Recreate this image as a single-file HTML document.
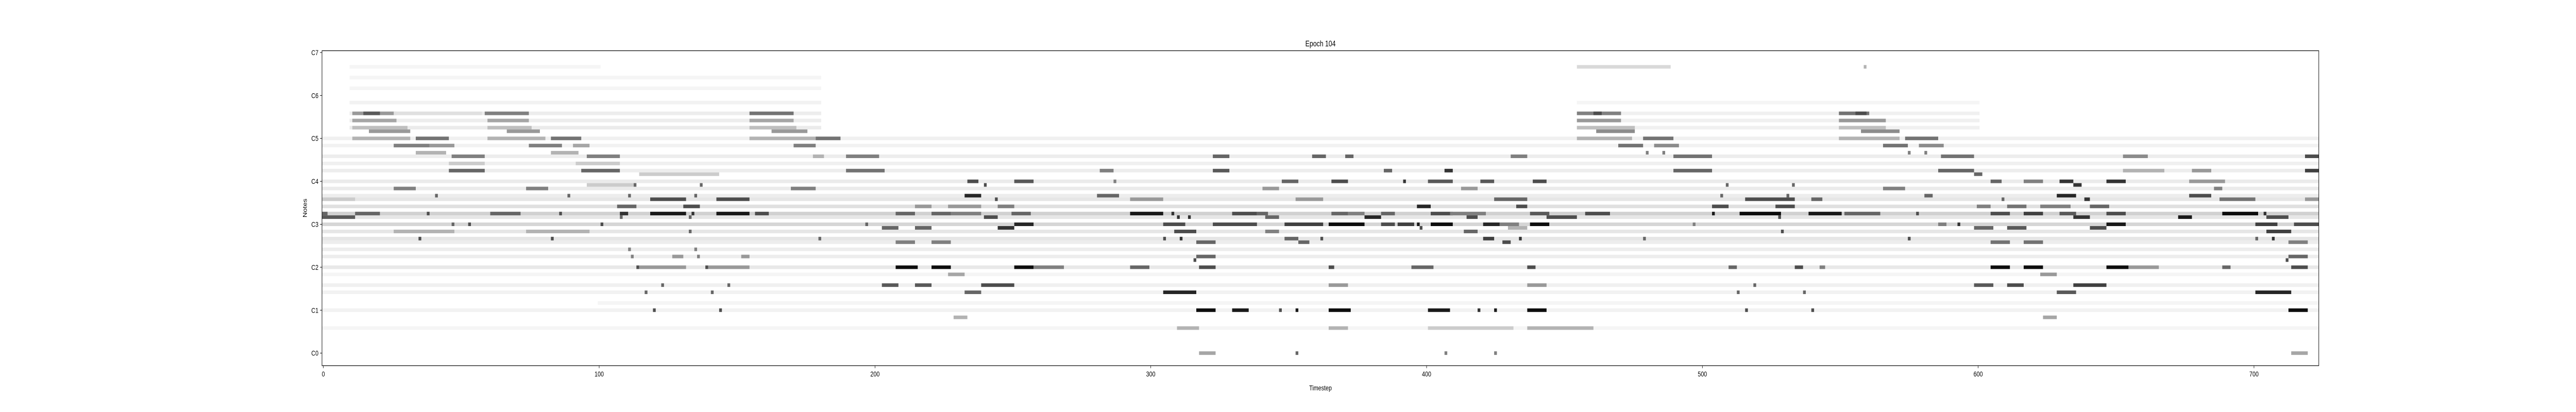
<!DOCTYPE html>
<html><head><meta charset="utf-8"><style>
html,body{margin:0;padding:0;background:#fff;width:100%;height:100%;overflow:hidden;}
svg{display:block;width:100vw;height:100vh;font-family:"Liberation Sans","DejaVu Sans",sans-serif;}
</style></head><body>
<svg id="chart" viewBox="0 0 6500 800" preserveAspectRatio="none">
<rect x="0" y="0" width="6500" height="800" fill="#fff"/>
<text x="3332" y="90" font-size="16" text-anchor="middle" fill="#000">Epoch 104</text>
<g id="cells"></g>
<g id="axes"></g>
<text x="3332" y="758" font-size="14" text-anchor="middle" fill="#000">Timestep</text>
<text x="0" y="0" font-size="14" text-anchor="middle" fill="#000" transform="translate(774,404) rotate(-90)">Notes</text>
</svg>
<script>
const xTicks = [0,100,200,300,400,500,600,700];
const yTickNotes = [0,12,24,36,48,60,72,84];
const yTickLabels = ["C0","C1","C2","C3","C4","C5","C6","C7"];
const tMin = -0.5, tMax = 723.5, nMin = -3.5, nMax = 84.5;
// note runs: [note, tStart, tEnd, intensity]
const faintRuns = [
[39,0,723,0.18],[36,0,723,0.16],[41,0,723,0.12],[43,0,723,0.1],[38,0,723,0.1],[32,0,723,0.1],[34,0,723,0.1],
[24,0,723,0.09],[29,0,723,0.07],[27,0,723,0.07],[31,0,723,0.07],[46,0,723,0.08],[48,0,723,0.08],[44,0,723,0.07],
[51,0,723,0.07],[53,0,723,0.06],[55,0,723,0.07],[58,0,723,0.05],[60,0,723,0.06],[19,0,723,0.06],[17,0,723,0.05],
[12,0,723,0.05],[22,0,723,0.04],[7,0,723,0.04],[14,100,723,0.04],[63,10,180,0.08],[65,10,180,0.07],[67,10,180,0.07],
[70,10,180,0.05],[74,10,180,0.04],[77,10,180,0.04],[80,10,100,0.04],[63,455,600,0.06],[65,455,600,0.06],[67,455,600,0.06],[70,455,600,0.04]
];
const runs = [
[67,11,26,.4],[67,15,20,.65],[67,59,74,.5],[67,155,170,.55],[67,26,57,.12],
[65,11,26,.35],[65,60,74,.35],[65,155,170,.35],
[63,11,30,.25],[63,60,75,.25],[63,155,171,.25],
[62,17,31,.4],[62,67,78,.4],[62,163,175,.4],
[60,11,31,.3],[60,34,45,.55],[60,60,80,.3],[60,83,93,.55],[60,155,178,.3],[60,179,187,.55],
[58,26,38,.5],[58,39,47,.4],[58,75,86,.5],[58,91,96,.35],[58,171,178,.5],
[56,34,44,.3],[56,83,92,.3],
[55,47,58,.5],[55,96,107,.5],[55,178,181,.3],
[53,46,58,.2],[53,92,107,.2],
[51,46,58,.6],[51,94,107,.6],
[50,115,143,.2],
[47,113,113,.6],[47,137,137,.6],[47,96,112,.2],
[46,26,33,.5],[46,74,81,.5],[46,170,178,.5],
[44,41,41,.6],[44,89,89,.6],[44,111,111,.6],[44,135,135,.6],
[43,119,131,.7],[43,143,154,.7],[43,0,11,.2],
[41,107,113,.6],[41,131,136,.7],
[39,0,1,.6],[39,12,20,.6],[39,38,38,.7],[39,61,71,.6],[39,86,86,.7],[39,108,110,.8],[39,119,131,.9],[39,134,134,.8],[39,143,154,.9],[39,157,161,.7],
[38,0,11,.65],[38,108,108,.6],[38,133,133,.6],
[36,47,47,.6],[36,53,53,.7],[36,101,101,.7],
[34,26,47,.3],[34,74,96,.3],[34,133,133,.6],
[32,35,35,.7],[32,83,83,.7],[32,180,180,.6],
[29,111,111,.5],[29,135,135,.5],
[27,112,112,.5],[27,136,136,.5],[27,127,130,.4],[27,152,154,.4],
[24,114,114,.7],[24,115,131,.4],[24,139,139,.7],[24,140,154,.4],
[19,123,123,.6],[19,147,147,.6],[17,117,117,.6],[17,141,141,.6],[12,120,120,.7],[12,144,144,.7],
[55,190,201,.5],[55,323,328,.6],[55,359,363,.6],
[51,190,203,.55],[51,323,328,.65],[51,282,286,.5],
[48,234,237,.7],[48,251,257,.65],[48,287,287,.5],[48,348,353,.6],
[47,240,240,.7],[46,341,346,.4],
[44,233,238,.85],[44,281,288,.6],
[43,244,244,.7],[43,293,304,.4],[43,353,362,.4],
[41,227,238,.4],[41,245,250,.5],[41,215,220,.4],
[39,208,214,.6],[39,221,227,.6],[39,228,238,.5],[39,250,256,.6],[39,293,304,.9],[39,308,308,.8],[39,330,338,.7],[39,339,342,.6],
[38,240,244,.7],[38,310,310,.8],[38,314,314,.8],[38,342,346,.6],
[36,197,197,.6],[36,251,257,.85],[36,305,312,.7],[36,323,338,.7],[36,349,362,.75],
[35,203,208,.6],[35,215,220,.6],[35,245,250,.8],
[34,309,316,.7],[34,342,346,.5],
[32,305,305,.7],[32,311,311,.8],[32,349,353,.6],
[31,208,214,.5],[31,221,227,.5],[31,317,323,.6],[31,354,357,.6],
[27,317,323,.6],[26,316,316,.7],
[24,208,215,.95],[24,221,227,.95],[24,251,257,.95],[24,258,268,.5],[24,293,299,.6],[24,318,323,.7],
[22,227,232,.35],
[19,203,208,.65],[19,215,220,.65],[19,239,250,.7],
[17,233,238,.6],[17,305,316,.85],
[12,317,323,.95],[12,330,335,.9],[12,347,347,.7],[12,353,353,.9],
[10,229,233,.3],[7,310,317,.3],[0,318,323,.35],[0,353,353,.6],
[80,455,488,.15],[67,455,470,.5],[67,461,463,.7],[65,455,470,.4],[63,455,475,.25],[62,462,475,.45],
[60,455,474,.3],[60,479,489,.55],[58,470,478,.55],[58,483,491,.45],[56,480,480,.5],[56,486,486,.5],
[55,490,503,.55],[51,490,503,.6],
[55,371,373,.6],[55,431,436,.5],
[51,407,409,.8],[51,385,387,.6],
[48,366,371,.7],[48,392,392,.8],[48,401,409,.65],[48,420,424,.65],[48,439,443,.7],
[46,413,418,.4],
[43,425,436,.6],[43,516,533,.7],[43,540,543,.6],
[41,397,401,.85],[41,433,436,.7],[41,504,509,.7],[41,527,533,.7],
[39,366,371,.6],[39,372,377,.5],[39,384,388,.6],[39,402,409,.7],[39,409,421,.5],[39,438,444,.65],[39,458,466,.7],[39,504,504,.9],[39,514,528,.95],[39,539,550,.9],
[38,378,383,.85],[38,415,418,.7],[38,444,454,.7],[38,528,528,.7],
[36,365,377,.95],[36,384,388,.7],[36,390,395,.75],[36,397,397,.9],[36,402,409,.95],[36,421,426,.85],[36,427,433,.5],[36,438,444,.95],[36,497,497,.5],
[35,398,398,.7],[35,430,436,.3],
[34,414,418,.6],[34,529,529,.7],
[32,362,362,.7],[32,434,434,.8],[32,421,424,.75],[32,479,479,.6],
[31,428,430,.7],
[24,365,366,.7],[24,395,402,.6],[24,437,439,.7],[24,510,512,.6],[24,534,536,.7],
[19,365,371,.4],[19,437,443,.4],[19,519,519,.6],
[17,513,513,.6],[17,537,537,.6],
[12,365,372,.95],[12,401,408,.9],[12,419,419,.8],[12,425,425,.9],[12,437,443,.95],[12,516,516,.7],[12,540,540,.7],
[47,509,509,.6],[47,533,533,.6],[44,507,507,.6],[44,531,531,.6],
[7,365,371,.3],[7,401,431,.2],[7,437,460,.3],
[0,407,407,.5],[0,425,425,.5],
[80,559,559,.3],[67,550,560,.55],[67,556,559,.7],[65,550,566,.4],[63,550,566,.25],[62,558,571,.45],
[60,550,571,.3],[60,574,585,.55],[58,566,574,.55],[58,579,587,.45],[56,575,575,.5],[56,581,581,.5],
[55,587,598,.55],[51,586,598,.6],
[55,653,661,.45],[55,719,723,.7],
[51,719,723,.75],[51,653,667,.3],[51,678,684,.4],
[50,599,601,.6],
[48,605,608,.6],[48,617,623,.5],[48,630,634,.8],[48,647,653,.8],[48,677,689,.4],
[47,635,637,.8],
[46,686,688,.5],[46,566,573,.5],
[44,581,583,.6],[44,629,635,.85],[44,677,684,.7],
[43,609,609,.6],[43,639,640,.8],[43,688,700,.55],[43,719,723,.4],
[41,600,604,.5],[41,611,617,.55],[41,623,633,.5],[41,641,647,.6],
[39,552,564,.6],[39,578,578,.7],[39,605,611,.7],[39,617,623,.75],[39,630,635,.65],[39,647,653,.7],[39,689,701,.95],[39,704,704,.8],
[38,635,640,.8],[38,673,677,.9],[38,705,712,.7],
[36,586,588,.5],[36,593,593,.8],[36,647,653,.9],[36,701,708,.75],[36,715,723,.7],
[35,599,605,.6],[35,611,617,.65],[35,641,646,.7],
[34,705,713,.75],
[32,575,575,.7],[32,701,701,.6],[32,707,707,.8],
[31,605,611,.55],[31,617,623,.55],[31,713,719,.5],
[27,713,719,.6],[26,712,712,.7],
[24,543,544,.5],[24,605,611,.95],[24,617,623,.95],[24,647,654,.95],[24,655,665,.4],[24,689,691,.6],[24,714,719,.7],
[22,623,628,.4],
[19,599,605,.65],[19,611,616,.7],[19,635,646,.75],
[17,629,635,.65],[17,701,713,.85],
[12,713,719,.95],[10,624,628,.35],[0,714,719,.35]
];
const X0 = 812.5, X1 = 5851, Y0 = 98.5, Y1 = 710;
function xs(t){ return X0 + (t - tMin) / (tMax - tMin) * (X1 - X0); }
function ys(n){ return Y1 - (n - nMin) / (nMax - nMin) * (Y1 - Y0); }
const NS = "http://www.w3.org/2000/svg";
const cells = document.getElementById("cells");
function drawRun(r, kind){
  const [n, t0, t1, g] = r;
  const rect = document.createElementNS(NS, "rect");
  const x = xs(t0 - 0.5), w = xs(t1 + 0.5) - x;
  const y = ys(n + 0.5), h = ys(n - 0.5) - y;
  rect.setAttribute("x", x.toFixed(2));
  rect.setAttribute("y", y.toFixed(2));
  rect.setAttribute("width", w.toFixed(2));
  rect.setAttribute("height", h.toFixed(2));
  const v = Math.round(255 * (1 - g));
  rect.setAttribute("fill", "rgb(" + v + "," + v + "," + v + ")");
  
  
  cells.appendChild(rect);
}
faintRuns.forEach(r => drawRun(r, 'faint-note-run'));
runs.forEach(r => drawRun(r, 'note-run'));
const axes = document.getElementById("axes");
const frame = document.createElementNS(NS, "rect");
frame.setAttribute("x", X0); frame.setAttribute("y", Y0);
frame.setAttribute("width", X1 - X0); frame.setAttribute("height", Y1 - Y0);
frame.setAttribute("fill", "none"); frame.setAttribute("stroke", "#000"); frame.setAttribute("stroke-width", "1.2");


axes.appendChild(frame);
xTicks.forEach(t => {
  const x = xs(t);
  const l = document.createElementNS(NS, "line");
  l.setAttribute("x1", x); l.setAttribute("x2", x); l.setAttribute("y1", Y1); l.setAttribute("y2", Y1 + 5);
  l.setAttribute("stroke", "#000");
  
  
  axes.appendChild(l);
  const tx = document.createElementNS(NS, "text");
  tx.setAttribute("x", x); tx.setAttribute("y", Y1 + 21);
  tx.setAttribute("font-size", "14"); tx.setAttribute("text-anchor", "middle");
  tx.textContent = String(t);
  
  
  axes.appendChild(tx);
});
yTickNotes.forEach((n, i) => {
  const y = ys(n);
  const l = document.createElementNS(NS, "line");
  l.setAttribute("x1", X0 - 5); l.setAttribute("x2", X0); l.setAttribute("y1", y); l.setAttribute("y2", y);
  l.setAttribute("stroke", "#000");
  
  
  axes.appendChild(l);
  const tx = document.createElementNS(NS, "text");
  tx.setAttribute("x", X0 - 9); tx.setAttribute("y", y + 5);
  tx.setAttribute("font-size", "14"); tx.setAttribute("text-anchor", "end");
  tx.textContent = yTickLabels[i];
  
  
  axes.appendChild(tx);
});
</script>
</body></html>
